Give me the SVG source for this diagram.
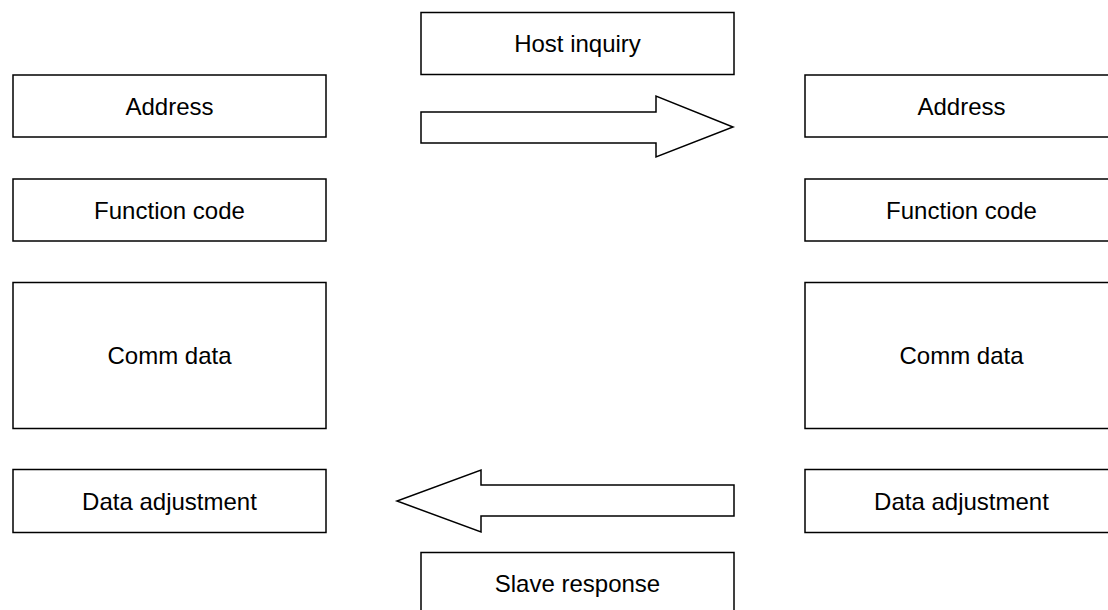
<svg xmlns="http://www.w3.org/2000/svg" width="1108" height="610" viewBox="0 0 1108 610">
<style>
.box{fill:#fff;stroke:#000;stroke-width:1.5}
.arrow{fill:#fff;stroke:#000;stroke-width:1.5;stroke-linejoin:miter}
.lbl{font-family:"Liberation Sans",Arial,sans-serif;font-size:24px;fill:#000;text-anchor:middle}
</style>
<rect width="1108" height="610" fill="#fff"/>
<g id="host-inquiry"><rect class="box" x="421" y="12.5" width="313" height="62"/><text class="lbl" x="577.5" y="52">Host inquiry</text></g>
<g id="left-address"><rect class="box" x="13" y="75" width="313" height="62"/><text class="lbl" x="169.5" y="114.5">Address</text></g>
<g id="left-function"><rect class="box" x="13" y="179" width="313" height="62"/><text class="lbl" x="169.5" y="218.5">Function code</text></g>
<g id="left-comm"><rect class="box" x="13" y="282.5" width="313" height="146"/><text class="lbl" x="169.5" y="364">Comm data</text></g>
<g id="left-adjust"><rect class="box" x="13" y="469.5" width="313" height="63"/><text class="lbl" x="169.5" y="509.5">Data adjustment</text></g>
<g id="right-address"><rect class="box" x="805" y="75" width="313" height="62"/><text class="lbl" x="961.5" y="114.5">Address</text></g>
<g id="right-function"><rect class="box" x="805" y="179" width="313" height="62"/><text class="lbl" x="961.5" y="218.5">Function code</text></g>
<g id="right-comm"><rect class="box" x="805" y="282.5" width="313" height="146"/><text class="lbl" x="961.5" y="364">Comm data</text></g>
<g id="right-adjust"><rect class="box" x="805" y="469.5" width="313" height="63"/><text class="lbl" x="961.5" y="509.5">Data adjustment</text></g>
<g id="slave-response"><rect class="box" x="421" y="552.5" width="313" height="62"/><text class="lbl" x="577.5" y="592">Slave response</text></g>
<g id="connectors">
<polygon class="arrow" points="421,112 656,112 656,96 733,127 656,157 656,143 421,143"/>
<polygon class="arrow" points="734,485 481,485 481,470 397,501 481,532 481,516 734,516"/>
</g>
</svg>
